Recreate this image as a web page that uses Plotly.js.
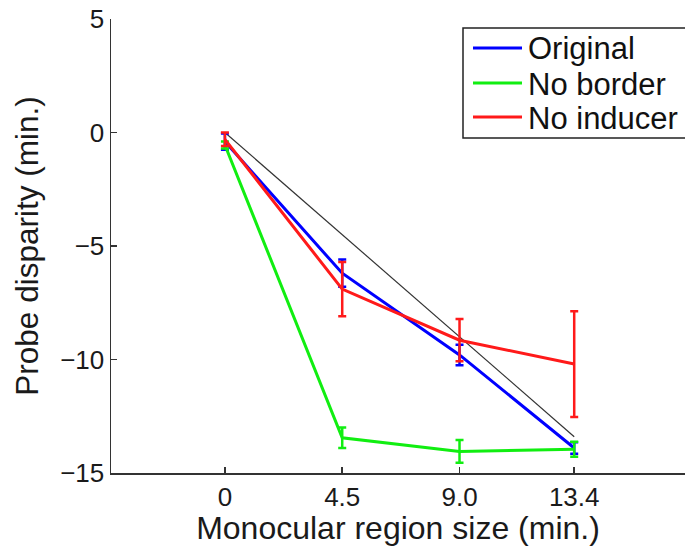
<!DOCTYPE html>
<html>
<head>
<meta charset="utf-8">
<script src="https://cdn.plot.ly/plotly-3.0.1.min.js"></script>
<style>html,body{margin:0;padding:0;background:#fff;overflow:hidden}</style>
</head>
<body>
<div id="chart" style="width:685px;height:546px"></div>
<script>
// Data
var regionSize = [0, 4.5, 9.0, 13.4];
var xTickText = ['0', '4.5', '9.0', '13.4'];
var yTickVals = [-15, -10, -5, 0, 5];
var yTickText = ['\u221215', '\u221210', '\u22125', '0', '5'];

var seriesNames = ['Original', 'No border', 'No inducer'];
var seriesColors = ['#0000ff', '#11ee11', '#ff1a1a'];

var original = [-0.4, -6.2, -9.8, -13.9];
var originalErr = [0.36, 0.6, 0.45, 0.25];

var noBorder = [-0.55, -13.45, -14.05, -13.95];
var noBorderErr = [0.15, 0.45, 0.5, 0.33];

var noInducer = [-0.3, -6.9, -9.15, -10.2];
var noInducerErr = [0.3, 1.2, 0.93, 2.33];

var identityX = [0, 13.4];
var identityY = [0, -13.4];

var FONT = 'Liberation Sans, Arial, Helvetica, sans-serif';
var TXT = '#1a1a1a';

function series(name, y, err, color) {
  return {
    type: 'scatter', mode: 'lines', name: name, showlegend: false,
    x: regionSize, y: y,
    line: {color: color, width: 3},
    error_y: {type: 'data', array: err, visible: true, color: color, thickness: 2.5, width: 4}
  };
}

var traces = [
  {type: 'scatter', mode: 'lines', x: identityX, y: identityY, showlegend: false,
   line: {color: '#333333', width: 1.2}, hoverinfo: 'skip'},
  series(seriesNames[0], original, originalErr, seriesColors[0]),
  series(seriesNames[1], noBorder, noBorderErr, seriesColors[1]),
  series(seriesNames[2], noInducer, noInducerErr, seriesColors[2])
];

// Legend box (MATLAB style), positioned in paper coordinates
var L = 111, W = 574, B = 473, H = 454;
function px(x) { return (x - L) / W; }
function py(y) { return (B - y) / H; }
var legendRows = [48, 83, 117];

var shapes = [{
  type: 'rect', xref: 'paper', yref: 'paper',
  x0: px(463), x1: px(690), y0: py(138), y1: py(28),
  line: {color: '#222222', width: 1.5}, fillcolor: '#ffffff', layer: 'above'
}];
var annotations = [];
seriesNames.forEach(function (name, i) {
  shapes.push({
    type: 'line', xref: 'paper', yref: 'paper',
    x0: px(473), x1: px(522), y0: py(legendRows[i]), y1: py(legendRows[i]),
    line: {color: seriesColors[i], width: 3}, layer: 'above'
  });
  annotations.push({
    xref: 'paper', yref: 'paper', x: px(526), y: py(legendRows[i] + 1),
    xanchor: 'left', yanchor: 'middle', showarrow: false, text: name,
    font: {family: FONT, size: 31, color: '#111111'}
  });
});

var layout = {
  width: 685, height: 546,
  margin: {l: 111, r: 0, t: 19, b: 73, pad: 0},
  paper_bgcolor: '#ffffff', plot_bgcolor: '#ffffff',
  font: {family: FONT, color: TXT},
  showlegend: false,
  shapes: shapes,
  annotations: annotations,
  xaxis: {
    range: [-4.37, 17.65], tickvals: regionSize, ticktext: xTickText,
    showgrid: false, zeroline: false, showline: true, linecolor: '#333333', linewidth: 1.5,
    ticks: 'inside', ticklen: 6, tickwidth: 1.5, tickcolor: '#333333',
    tickfont: {family: FONT, size: 26, color: TXT},
    title: {text: 'Monocular region size (min.)', font: {family: FONT, size: 32, color: TXT}, standoff: 6}
  },
  yaxis: {
    range: [-15, 5], tickvals: yTickVals, ticktext: yTickText,
    showgrid: false, zeroline: false, showline: true, linecolor: '#333333', linewidth: 1.5,
    ticks: 'inside', ticklen: 6, tickwidth: 1.5, tickcolor: '#333333',
    tickfont: {family: FONT, size: 26, color: TXT},
    title: {text: 'Probe disparity (min.)', font: {family: FONT, size: 31.5, color: TXT}, standoff: 12}
  }
};

Plotly.newPlot('chart', traces, layout, {displayModeBar: false, staticPlot: true});
</script>
</body>
</html>
